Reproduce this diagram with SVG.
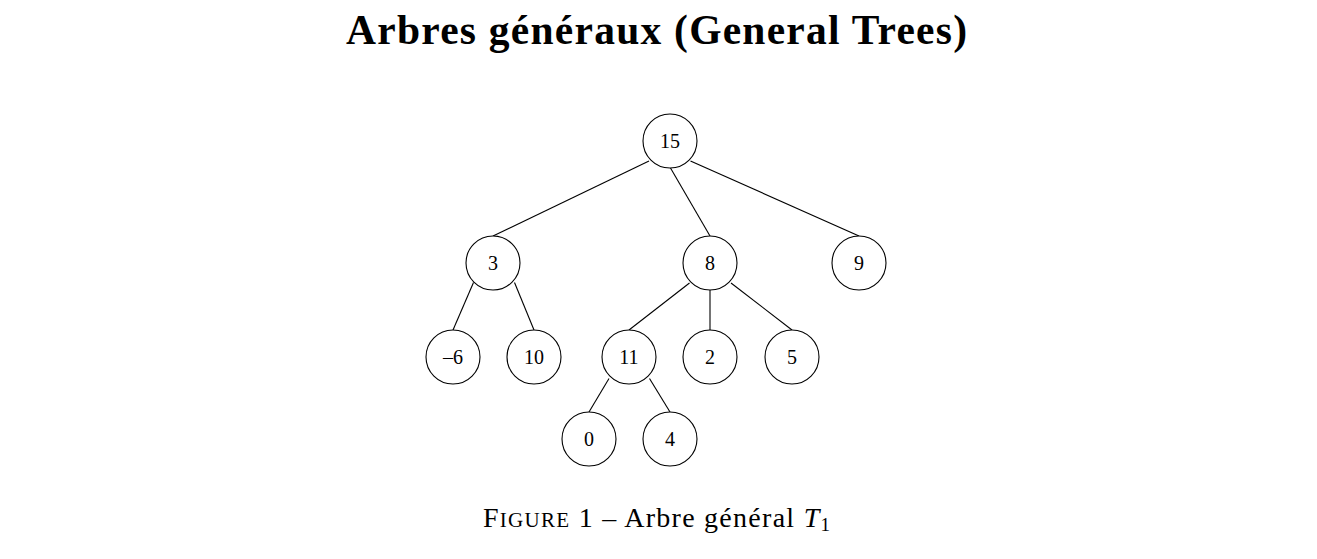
<svg xmlns="http://www.w3.org/2000/svg" width="1317" height="559" viewBox="0 0 1317 559">
<style>
.node circle{fill:#fff;stroke:#000;stroke-width:1.1}
.node text{font-family:"Liberation Serif","Times New Roman",serif;font-size:20px;text-anchor:middle;fill:#000}
#edges line{stroke:#000;stroke-width:1.1}
.title{font-family:"Liberation Serif","Times New Roman",serif;font-weight:bold;font-size:41.5px;fill:#000}
.cap{font-family:"Liberation Serif","Times New Roman",serif;font-size:28px;fill:#000}
</style>
<rect width="1317" height="559" fill="#fff"/>
<text class="title" x="346" y="43.5" textLength="621" lengthAdjust="spacing">Arbres généraux (General Trees)</text>
<g id="edges">
<line x1="649" y1="161" x2="493" y2="236"/>
<line x1="670.5" y1="168" x2="710" y2="236"/>
<line x1="690.5" y1="161" x2="859" y2="236"/>
<line x1="473.5" y1="282.5" x2="453" y2="330"/>
<line x1="514.5" y1="282.5" x2="534" y2="330"/>
<line x1="689.5" y1="283" x2="629" y2="330"/>
<line x1="710" y1="290" x2="710" y2="330"/>
<line x1="731" y1="283" x2="792" y2="330"/>
<line x1="609" y1="378.5" x2="589" y2="412"/>
<line x1="649.5" y1="378.5" x2="670" y2="412"/>
</g>
<g id="n15" class="node"><circle cx="670" cy="141" r="27"/><text x="670" y="148">15</text></g>
<g id="n3" class="node"><circle cx="493" cy="263" r="27"/><text x="493" y="270">3</text></g>
<g id="n8" class="node"><circle cx="710" cy="263" r="27"/><text x="710" y="270">8</text></g>
<g id="n9" class="node"><circle cx="859" cy="263" r="27"/><text x="859" y="270">9</text></g>
<g id="nm6" class="node"><circle cx="453" cy="357" r="27"/><text x="453" y="364">–6</text></g>
<g id="n10" class="node"><circle cx="534" cy="357" r="27"/><text x="534" y="364">10</text></g>
<g id="n11" class="node"><circle cx="629" cy="357" r="27"/><text x="629" y="364">11</text></g>
<g id="n2" class="node"><circle cx="710" cy="357" r="27"/><text x="710" y="364">2</text></g>
<g id="n5" class="node"><circle cx="792" cy="357" r="27"/><text x="792" y="364">5</text></g>
<g id="n0" class="node"><circle cx="589" cy="439" r="27"/><text x="589" y="446">0</text></g>
<g id="n4" class="node"><circle cx="670" cy="439" r="27"/><text x="670" y="446">4</text></g>
<text class="cap" x="483" y="527" textLength="347" lengthAdjust="spacing">F<tspan font-size="21">IGURE</tspan> 1 – Arbre général <tspan font-style="italic">T</tspan><tspan font-size="19" dy="4">1</tspan></text>
</svg>
